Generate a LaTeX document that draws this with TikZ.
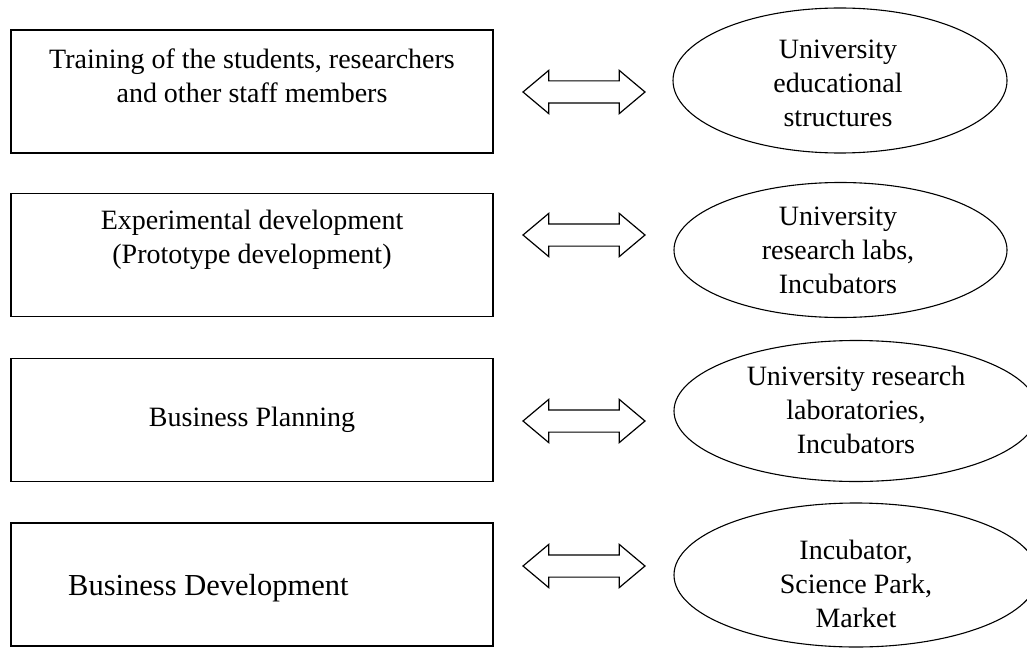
\documentclass[tikz,border=0pt]{standalone}
\usepackage{fontspec}
\setmainfont{Liberation Serif}
\usetikzlibrary{shapes.geometric,shapes.arrows}
\begin{document}
\begin{tikzpicture}[x=1pt,y=-1pt,
  stage/.style={draw, line width=1.4pt, rectangle, minimum width=482pt, minimum height=123pt, inner sep=0pt},
  place/.style={draw, line width=1.1pt, ellipse, inner sep=0pt},
  link/.style={draw, line width=1.2pt, double arrow, double arrow head extend=10.5pt,
    double arrow tip angle=80, inner xsep=0pt, inner ysep=10.5pt, minimum height=122pt},
  lbl/.style={font=\fontsize{28}{34}\selectfont, align=center, inner sep=0pt}]
\useasboundingbox (0,0) rectangle (1027,650);
\clip (0,0) rectangle (1027,650);

% activity boxes
\node[stage] (b1) at (252,91.5) {};
\node[stage] (b2) at (252,255) {};
\node[stage] (b3) at (252,420) {};
\node[stage] (b4) at (252,584.5) {};
\node[lbl] (t1) at (252,76) {Training of the students, researchers\\and other staff members};
\node[lbl] (t2) at (252,240) {Experimental development\\(Prototype development)};
\node[lbl] (t3) at (252,420) {Business Planning};
\node[lbl, anchor=west, font=\fontsize{30.5}{36}\selectfont] (t4) at (68,588) {Business Development};

% supporting structures
\node[place, minimum width=334pt, minimum height=145pt] (e1) at (840,80.5) {};
\node[place, minimum width=333pt, minimum height=135pt] (e2) at (840.5,250) {};
\node[place, minimum width=364pt, minimum height=141pt] (e3) at (856,411) {};
\node[place, minimum width=364pt, minimum height=144pt] (e4) at (856,575) {};
\node[lbl] (s1) at (838,83) {University\\educational\\structures};
\node[lbl] (s2) at (838,250) {University\\research labs,\\Incubators};
\node[lbl] (s3) at (856,410) {University research\\laboratories,\\Incubators};
\node[lbl] (s4) at (856,584) {Incubator,\\Science Park,\\Market};

% two-way links
\node[link] (a1) at (584,92) {};
\node[link] (a2) at (584,235) {};
\node[link] (a3) at (584,421) {};
\node[link] (a4) at (584,566) {};
\end{tikzpicture}
\end{document}
